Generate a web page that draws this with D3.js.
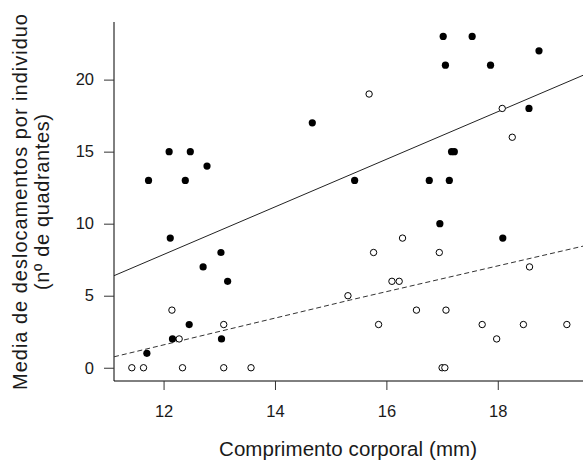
<!DOCTYPE html>
<html>
<head>
<meta charset="utf-8">
<script src="https://cdn.jsdelivr.net/npm/d3@7"></script>
<style>
  body { margin: 0; background: #fff; }
  svg text { font-family: "Liberation Sans", Arial, sans-serif; fill: #1a1a1a; }
</style>
</head>
<body>
<div id="chart"></div>
<script>
// Filled points (length mm, mean moves)
const filledX = [11.70, 11.73, 12.10, 12.12, 12.16, 12.39, 12.46, 12.48, 12.71, 12.78, 13.03, 13.04, 13.15,
  14.67, 15.43, 16.77, 16.96, 17.02, 17.06, 17.13, 17.17, 17.22, 17.54, 17.87, 18.09, 18.56, 18.74];
const filledY = [1, 13, 15, 9, 2, 13, 3, 15, 7, 14, 8, 2, 6,
  17, 13, 13, 10, 23, 21, 13, 15, 15, 23, 21, 9, 18, 22];

// Open points
const openX = [11.43, 11.64, 12.15, 12.28, 12.34, 13.08, 13.08, 13.57, 15.31, 15.69, 15.77, 15.86, 16.10, 16.23,
  16.29, 16.54, 16.95, 17.00, 17.05, 17.07, 17.72, 17.98, 18.08, 18.26, 18.46, 18.57, 19.24];
const openY = [0, 0, 4, 2, 0, 0, 3, 0, 5, 19, 8, 3, 6, 6,
  9, 4, 8, 0, 0, 4, 3, 2, 18, 16, 3, 7, 3];

// Fitted lines
const solidLine = [[11.11, 6.39], [19.53, 20.3]];
const dashedLine = [[11.11, 0.76], [15.35, 4.70], [19.53, 8.44]];

const xTicks = [12, 14, 16, 18];
const yTicks = [0, 5, 10, 15, 20];

const width = 583, height = 461;
const mLeft = 114, mRight = 583, mTop = 22, mBottom = 381;

const svg = d3.select('#chart').append('svg')
  .attr('width', width)
  .attr('height', height);

const x = d3.scaleLinear().domain([11.11, 19.53]).range([mLeft, mRight]);
const y = d3.scaleLinear().domain([-0.92, 24.0]).range([mBottom, mTop]);

// Axes (box type "l")
const yAxis = svg.append('g')
  .attr('transform', `translate(${mLeft},0)`)
  .call(d3.axisLeft(y).tickValues(yTicks).tickSize(10).tickPadding(10).tickFormat(d3.format('d')));
yAxis.select('.domain').attr('d', `M0,${mTop}V${mBottom}`).attr('stroke', '#000');
yAxis.selectAll('.tick line').attr('stroke', '#333');
yAxis.selectAll('.tick text').style('font-size', '16.5px').attr('fill', '#1a1a1a');

const xAxis = svg.append('g')
  .attr('transform', `translate(0,${mBottom})`)
  .call(d3.axisBottom(x).tickValues(xTicks).tickSize(9).tickPadding(15).tickFormat(d3.format('d')));
xAxis.select('.domain').attr('d', `M${mLeft},0H${mRight}`).attr('stroke', '#000');
xAxis.selectAll('.tick line').attr('stroke', '#333');
xAxis.selectAll('.tick text').style('font-size', '16.5px').attr('fill', '#1a1a1a');

// Lines
const line = d3.line().x(d => x(d[0])).y(d => y(d[1]));
svg.append('path')
  .attr('d', line(solidLine))
  .attr('fill', 'none')
  .attr('stroke', '#222')
  .attr('stroke-width', 1);
svg.append('path')
  .attr('d', line(dashedLine))
  .attr('fill', 'none')
  .attr('stroke', '#333')
  .attr('stroke-width', 1)
  .attr('stroke-dasharray', '5,3');

// Points
svg.append('g').selectAll('circle')
  .data(openX.map((v, i) => [v, openY[i]]))
  .join('circle')
    .attr('cx', d => x(d[0]))
    .attr('cy', d => y(d[1]))
    .attr('r', 3.2)
    .attr('fill', '#fff')
    .attr('stroke', '#000')
    .attr('stroke-width', 1);

svg.append('g').selectAll('circle')
  .data(filledX.map((v, i) => [v, filledY[i]]))
  .join('circle')
    .attr('cx', d => x(d[0]))
    .attr('cy', d => y(d[1]))
    .attr('r', 3.6)
    .attr('fill', '#000');

// Axis titles
svg.append('text')
  .attr('x', 348)
  .attr('y', 456)
  .attr('text-anchor', 'middle')
  .attr('textLength', 258)
  .attr('lengthAdjust', 'spacing')
  .style('font-size', '20.5px')
  .text('Comprimento corporal (mm)');

svg.append('text')
  .attr('transform', 'translate(27,202) rotate(-90)')
  .attr('text-anchor', 'middle')
  .attr('textLength', 376)
  .attr('lengthAdjust', 'spacing')
  .style('font-size', '20px')
  .text('Media de deslocamentos por individuo');

svg.append('text')
  .attr('transform', 'translate(49,202) rotate(-90)')
  .attr('text-anchor', 'middle')
  .attr('textLength', 176)
  .attr('lengthAdjust', 'spacing')
  .style('font-size', '20px')
  .text('(nº de quadrantes)');
</script>
</body>
</html>
